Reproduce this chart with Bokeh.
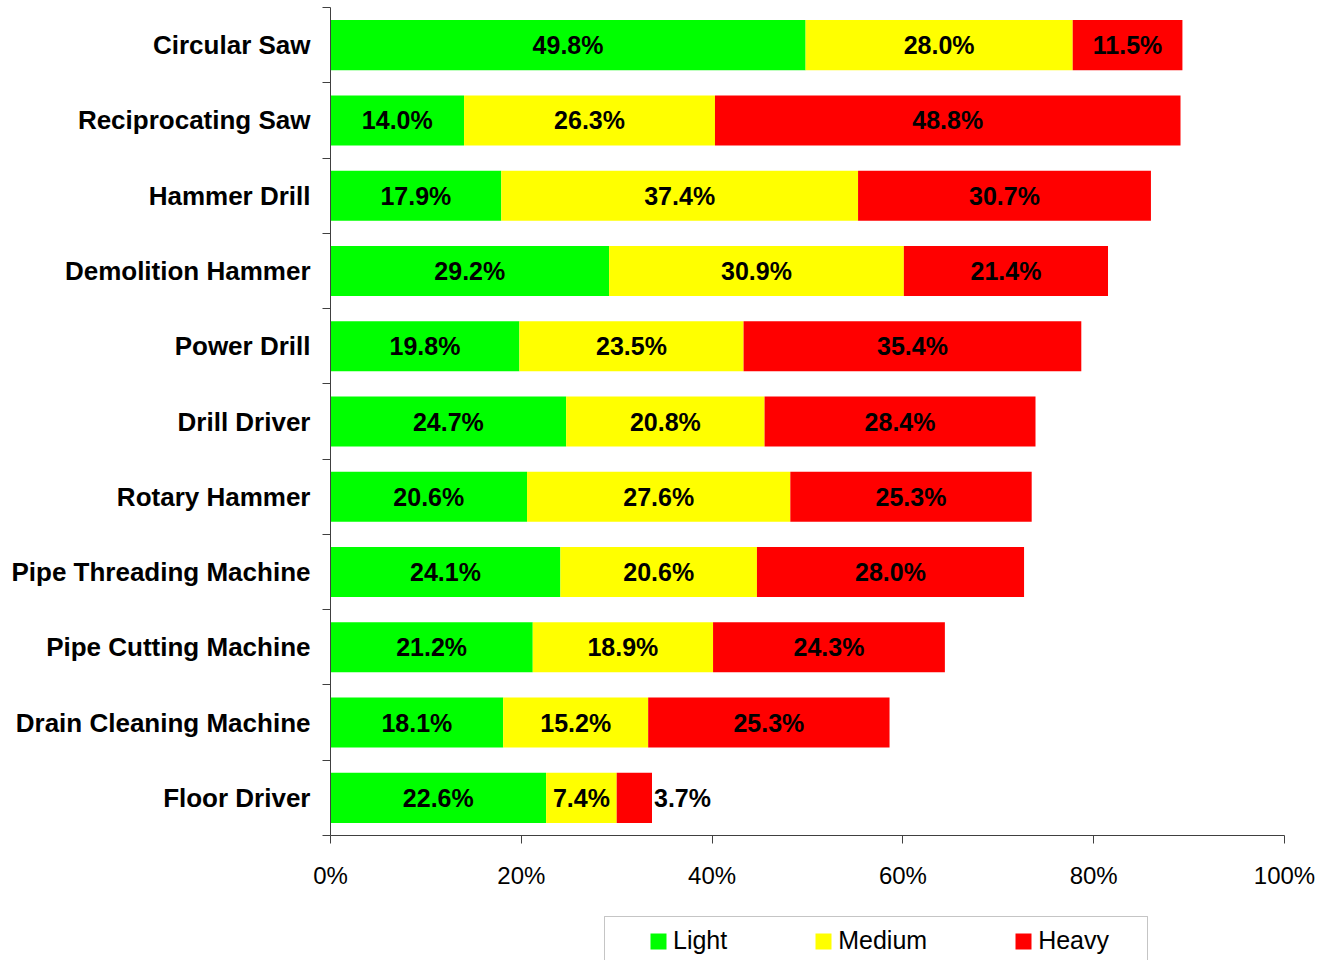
from bokeh.plotting import figure
from bokeh.layouts import column
from bokeh.models import (ColumnDataSource, Range1d, FixedTicker, PrintfTickFormatter,
                          Legend, LegendItem, BoxAnnotation)
from bokeh.core.properties import value
from bokeh.embed import file_html
from bokeh.resources import INLINE

categories = ["Circular Saw", "Reciprocating Saw", "Hammer Drill", "Demolition Hammer",
              "Power Drill", "Drill Driver", "Rotary Hammer", "Pipe Threading Machine",
              "Pipe Cutting Machine", "Drain Cleaning Machine", "Floor Driver"]
light = [49.8, 14.0, 17.9, 29.2, 19.8, 24.7, 20.6, 24.1, 21.2, 18.1, 22.6]
medium = [28.0, 26.3, 37.4, 30.9, 23.5, 20.8, 27.6, 20.6, 18.9, 15.2, 7.4]
heavy = [11.5, 48.8, 30.7, 21.4, 35.4, 28.4, 25.3, 28.0, 24.3, 25.3, 3.7]
series_names = ["Light", "Medium", "Heavy"]
series_colors = ["#00FF00", "#FFFF00", "#FF0000"]
x_ticks = [0, 20, 40, 60, 80, 100]

FONT = "Liberation Sans"
AXIS_COLOR = "#404040"

n = len(categories)
ys = [n - 1 - i for i in range(n)]

p = figure(width=1315, height=904, output_backend="svg", toolbar_location=None,
           x_range=Range1d(0, 100), y_range=Range1d(-0.5, n - 0.5),
           min_border_left=330, min_border_right=31, min_border_top=7,
           min_border_bottom=69)
p.outline_line_color = None
p.xgrid.visible = False
p.ygrid.visible = False
p.background_fill_color = "white"
p.border_fill_color = "white"

left = [0.0] * n
lab_x, lab_y, lab_t, lab_align, lab_off = [], [], [], [], []
sources = []
for name, vals, col in zip(series_names, [light, medium, heavy], series_colors):
    right = [l + v for l, v in zip(left, vals)]
    src = ColumnDataSource(dict(y=ys, left=left, right=right))
    sources.append(src)
    p.hbar(y="y", left="left", right="right", height=0.665, source=src,
           fill_color=col, line_color=None)
    for yy, l, rr, v in zip(ys, left, right, vals):
        lab_y.append(yy)
        lab_t.append(f"{v:.1f}%")
        if v < 5:
            lab_x.append(rr)
            lab_align.append("left")
            lab_off.append(2)
        else:
            lab_x.append((l + rr) / 2)
            lab_align.append("center")
            lab_off.append(0)
    left = right

lsrc = ColumnDataSource(dict(x=lab_x, y=lab_y, text=lab_t, align=lab_align, off=lab_off))
p.text(x="x", y="y", text="text", source=lsrc, text_align="align", x_offset="off",
       text_baseline="middle", text_font=value(FONT), text_font_style="bold",
       text_font_size="25px", text_color="black")

# y axis
yax = p.yaxis[0]
yax.ticker = FixedTicker(ticks=ys, minor_ticks=[k - 0.5 for k in range(n + 1)])
yax.major_label_overrides = {yy: c for yy, c in zip(ys, categories)}
yax.major_tick_out = 0
yax.major_tick_in = 0
yax.minor_tick_out = 8
yax.minor_tick_in = 0
yax.major_label_standoff = 12
yax.major_label_text_font = FONT
yax.major_label_text_font_style = "bold"
yax.major_label_text_font_size = "26px"
yax.major_label_text_color = "black"
yax.axis_line_color = AXIS_COLOR
yax.minor_tick_line_color = AXIS_COLOR

# x axis
xax = p.xaxis[0]
xax.ticker = FixedTicker(ticks=x_ticks, minor_ticks=[])
xax.formatter = PrintfTickFormatter(format="%d%%")
xax.major_tick_out = 8
xax.major_tick_in = 0
xax.minor_tick_out = 0
xax.minor_tick_in = 0
xax.major_label_standoff = 18
xax.major_label_text_font = FONT
xax.major_label_text_font_size = "24px"
xax.major_label_text_color = "black"
xax.axis_line_color = AXIS_COLOR
xax.major_tick_line_color = AXIS_COLOR

# legend strip (separate small figure; its frame clips the legend box's lower edge).
# It shows the same series; its y window lies above the bars so only the legend is seen.
q = figure(width=1315, height=56, output_backend="svg", toolbar_location=None,
           x_range=Range1d(0, 100), y_range=Range1d(n + 5, n + 6),
           x_axis_type=None, y_axis_type=None,
           min_border_left=330, min_border_right=31, min_border_top=0, min_border_bottom=0)
q.outline_line_color = None
q.xgrid.visible = False
q.ygrid.visible = False
items = []
for name, col, src in zip(series_names, series_colors, sources):
    r = q.hbar(y="y", left="left", right="right", height=0.665, source=src,
               fill_color=col, line_color=None)
    items.append(LegendItem(label=name, renderers=[r]))

frame_box = BoxAnnotation(left=604, right=1147, top=12, bottom=90,
                          left_units="canvas", right_units="canvas",
                          top_units="canvas", bottom_units="canvas",
                          fill_alpha=0, line_color=AXIS_COLOR, line_width=1)
q.add_layout(frame_box)

lg = Legend(items=items, orientation="horizontal", location=(318, 5),
            border_line_color=None, background_fill_alpha=0,
            padding=0, margin=0, spacing=86,
            glyph_width=20, glyph_height=20, label_standoff=5,
            label_text_font=FONT, label_text_font_size="25px", label_text_color="black")
q.add_layout(lg, "center")

layout = column(p, q, spacing=0)
open("out.html", "w").write(file_html(layout, INLINE))
